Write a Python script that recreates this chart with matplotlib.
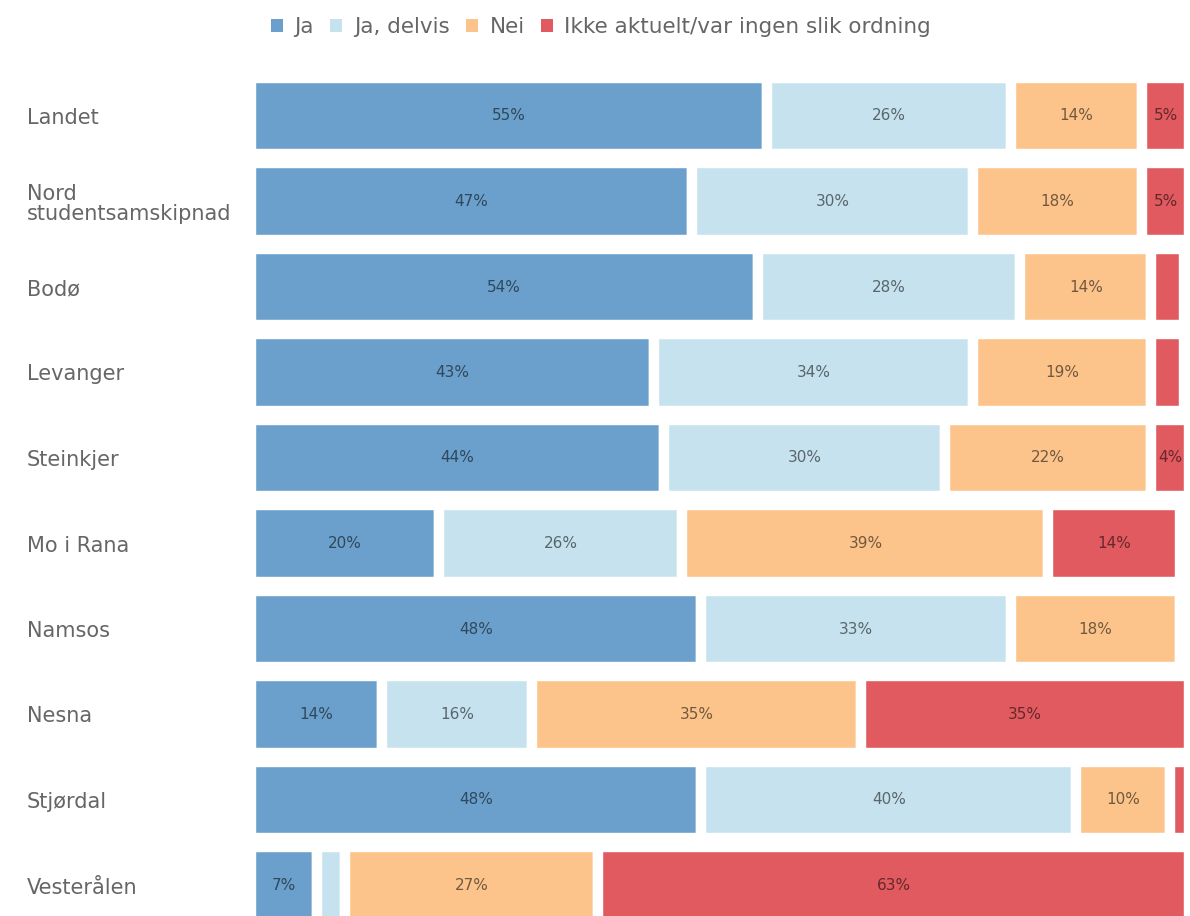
# Andel studenter: stablet horisontalt søylediagram

import numpy as np
import matplotlib.pyplot as plt
from matplotlib.patches import Patch

steder = ['Landet', 'Nord\nstudentsamskipnad', 'Bodø', 'Levanger', 'Steinkjer',
          'Mo i Rana', 'Namsos', 'Nesna', 'Stjørdal', 'Vesterålen']
serier = ['Ja', 'Ja, delvis', 'Nei', 'Ikke aktuelt/var ingen slik ordning']

ja      = [55, 47, 54, 43, 44, 20, 48, 14, 48, 7]
delvis  = [26, 30, 28, 34, 30, 26, 33, 16, 40, 3]
nei     = [14, 18, 14, 19, 22, 39, 18, 35, 10, 27]
ikke    = [5, 5, 3.5, 3.5, 4, 14, 1, 35, 2, 63]

farger = ['#6aa0cb', '#c6e2ee', '#fcc48b', '#e05a5f']

W, H = 1190, 916
fig = plt.figure(figsize=(W / 100, H / 100), dpi=100)
ax_top = 70
ax = fig.add_axes([251 / W, 0, (1189 - 251) / W, 1 - ax_top / H])

y = np.arange(len(steder))
venstre = np.zeros(len(steder))
for verdier, farge in zip([ja, delvis, nei, ikke], farger):
    v = np.array(verdier, dtype=float)
    ax.barh(y, v, left=venstre, height=0.89, color=farge,
            edgecolor='white', linewidth=7.5)
    for yi, xi, vi in zip(y, venstre, v):
        if vi >= 4:
            ax.text(xi + vi / 2, yi, f'{int(vi)}%', ha='center', va='center',
                    fontsize=11, color='black', alpha=0.55)
    venstre += v

# rad 0 midt på y=116 px, radavstand ca. 85.5 px
rad = 85.5
ax.set_ylim(9 + (H - 885.5) / rad, -(116 - ax_top) / rad)
ax.set_xlim(0, 100)
ax.set_yticks(y)
ax.set_yticklabels(steder, ha='left', fontsize=15, color='#666666',
                   linespacing=1.0)
ax.tick_params(axis='y', length=0, pad=(251 - 27) * 0.72)
ax.set_xticks([])
for s in ax.spines.values():
    s.set_visible(False)

handles = [Patch(facecolor=f, edgecolor='none') for f in farger]
fig.legend(handles, serier, loc='center', bbox_to_anchor=(0.505, 1 - 27 / H),
           ncol=4, frameon=False, fontsize=15.5, handlelength=0.55, handleheight=0.55,
           handletextpad=0.55, columnspacing=0.75, labelcolor='#666666')

fig.savefig('out.png', dpi=100)
